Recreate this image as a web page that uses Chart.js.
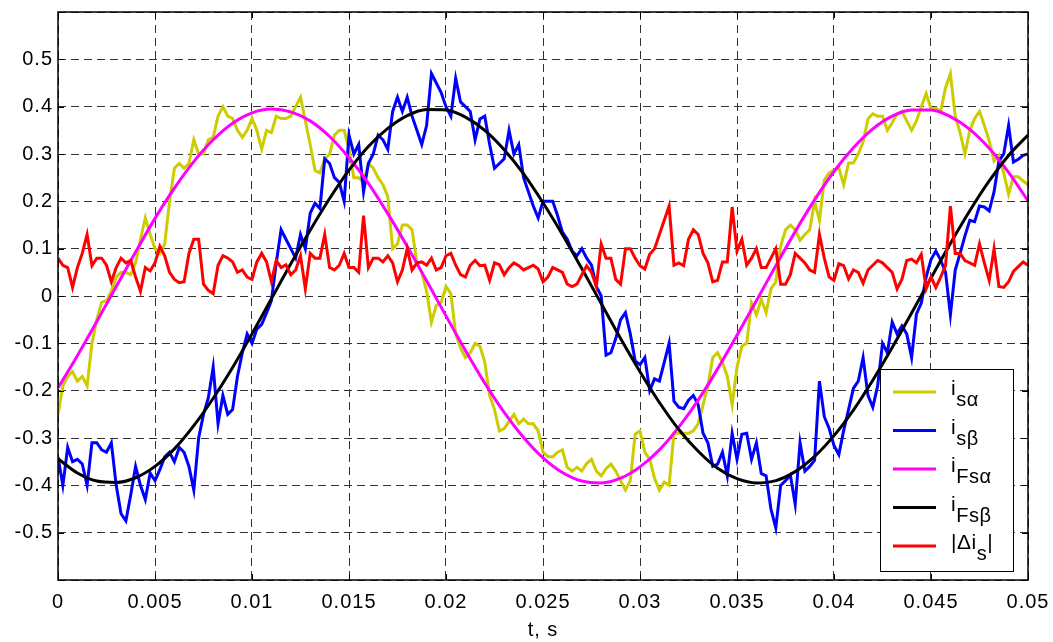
<!DOCTYPE html>
<html>
<head>
<meta charset="utf-8">
<script src="https://cdn.jsdelivr.net/npm/chart.js@4.4.1/dist/chart.umd.min.js"></script>
<style>
body { margin: 0; background: #fff; }
canvas { display: block; }
</style>
</head>
<body>
<canvas id="grafico" width="1053" height="642"></canvas>
<script>
// muestreo de las corrientes medidas (cada 0.25 ms) y filtradas (cada 1 ms)
const pasoMedida = 0.00025;
const pasoFiltro = 0.001;

const isAlfa = [
    -0.25, -0.19, -0.17, -0.16, -0.18, -0.17, -0.19, -0.10, -0.05, -0.013,
    -0.01, 0.01, 0.04, 0.05, 0.05, 0.045, 0.07, 0.12, 0.165, 0.13,
    0.10, 0.09, 0.11, 0.20, 0.27, 0.28, 0.27, 0.28, 0.33, 0.30,
    0.30, 0.33, 0.335, 0.38, 0.40, 0.38, 0.375, 0.35, 0.335, 0.35,
    0.375, 0.35, 0.31, 0.35, 0.345, 0.38, 0.375, 0.375, 0.38, 0.40,
    0.42, 0.37, 0.32, 0.265, 0.26, 0.29, 0.30, 0.34, 0.35, 0.35,
    0.31, 0.25, 0.25, 0.24, 0.28, 0.27, 0.25, 0.235, 0.21, 0.10,
    0.11, 0.15, 0.15, 0.14, 0.07, 0.05, 0.01, -0.055, -0.02, -0.013,
    0.02, 0.005, -0.08, -0.11, -0.13, -0.12, -0.10, -0.106, -0.14, -0.21,
    -0.24, -0.285, -0.28, -0.265, -0.25, -0.27, -0.26, -0.27, -0.27, -0.285,
    -0.33, -0.339, -0.34, -0.33, -0.325, -0.362, -0.37, -0.362, -0.37, -0.354,
    -0.345, -0.37, -0.38, -0.365, -0.355, -0.37, -0.39, -0.41, -0.39, -0.292,
    -0.285, -0.33, -0.345, -0.385, -0.41, -0.393, -0.40, -0.29, -0.29, -0.29,
    -0.29, -0.285, -0.27, -0.23, -0.19, -0.13, -0.12, -0.14, -0.17, -0.23,
    -0.15, -0.106, -0.10, -0.015, -0.04, -0.007, -0.035, 0.015, 0.03, 0.105,
    0.14, 0.15, 0.14, 0.118, 0.13, 0.14, 0.20, 0.16, 0.245, 0.26,
    0.266, 0.27, 0.235, 0.281, 0.281, 0.30, 0.325, 0.374, 0.385, 0.38,
    0.38, 0.35, 0.366, 0.385, 0.39, 0.37, 0.35, 0.37, 0.40, 0.428,
    0.395, 0.397, 0.39, 0.44, 0.47, 0.38, 0.345, 0.30, 0.35, 0.375,
    0.39, 0.36, 0.328, 0.285, 0.297, 0.26, 0.215, 0.252, 0.252, 0.243,
    0.235
];

const isBeta = [
    -0.34, -0.40, -0.32, -0.35, -0.345, -0.355, -0.40, -0.31, -0.31, -0.325,
    -0.33, -0.31, -0.40, -0.46, -0.475, -0.42, -0.36, -0.40, -0.43, -0.374,
    -0.39, -0.367, -0.34, -0.33, -0.35, -0.32, -0.33, -0.36, -0.41, -0.30,
    -0.25, -0.215, -0.15, -0.27, -0.21, -0.25, -0.24, -0.17, -0.12, -0.08,
    -0.10, -0.07, -0.06, -0.036, -0.01, 0.07, 0.14, 0.12, 0.10, 0.08,
    0.13, 0.10, 0.175, 0.196, 0.185, 0.29, 0.28, 0.25, 0.24, 0.20,
    0.34, 0.30, 0.32, 0.22, 0.28, 0.30, 0.34, 0.33, 0.31, 0.39,
    0.42, 0.39, 0.42, 0.38, 0.35, 0.32, 0.36, 0.47, 0.45, 0.43,
    0.40, 0.38, 0.46, 0.41, 0.40, 0.39, 0.33, 0.374, 0.38, 0.32,
    0.27, 0.28, 0.29, 0.35, 0.30, 0.32, 0.25, 0.22, 0.19, 0.165,
    0.20, 0.20, 0.20, 0.17, 0.135, 0.12, 0.095, 0.085, 0.10, 0.08,
    0.065, 0.02, 0.00, -0.125, -0.12, -0.09, -0.05, -0.035, -0.08, -0.137,
    -0.145, -0.13, -0.20, -0.175, -0.18, -0.14, -0.10, -0.222, -0.235, -0.238,
    -0.22, -0.21, -0.23, -0.29, -0.31, -0.36, -0.355, -0.33, -0.38, -0.29,
    -0.345, -0.292, -0.29, -0.345, -0.31, -0.375, -0.38, -0.45, -0.49, -0.40,
    -0.39, -0.378, -0.44, -0.31, -0.37, -0.36, -0.347, -0.18, -0.255, -0.28,
    -0.316, -0.335, -0.284, -0.24, -0.195, -0.18, -0.13, -0.21, -0.235, -0.19,
    -0.10, -0.12, -0.055, -0.08, -0.063, -0.08, -0.13, -0.038, -0.015, 0.04,
    0.077, 0.095, 0.076, 0.05, -0.04, 0.055, 0.09, 0.127, 0.16, 0.157,
    0.19, 0.188, 0.18, 0.22, 0.285, 0.30, 0.36, 0.283, 0.289, 0.297,
    0.30
];

const deltaIs = [
    0.08, 0.065, 0.06, 0.018, 0.06, 0.09, 0.13, 0.064, 0.08, 0.08,
    0.065, 0.03, 0.06, 0.08, 0.07, 0.075, 0.04, 0.01, 0.06, 0.053,
    0.07, 0.105, 0.085, 0.05, 0.035, 0.028, 0.03, 0.09, 0.12, 0.12,
    0.025, 0.012, 0.005, 0.065, 0.085, 0.08, 0.072, 0.05, 0.055, 0.04,
    0.035, 0.072, 0.09, 0.072, 0.03, 0.075, 0.06, 0.066, 0.045, 0.055,
    0.085, 0.015, 0.09, 0.08, 0.08, 0.13, 0.06, 0.055, 0.065, 0.09,
    0.06, 0.06, 0.05, 0.17, 0.06, 0.08, 0.08, 0.072, 0.085, 0.07,
    0.03, 0.055, 0.10, 0.055, 0.07, 0.072, 0.065, 0.08, 0.055, 0.06,
    0.085, 0.09, 0.065, 0.045, 0.04, 0.065, 0.075, 0.064, 0.065, 0.033,
    0.07, 0.066, 0.045, 0.06, 0.07, 0.064, 0.055, 0.06, 0.065, 0.057,
    0.03, 0.04, 0.06, 0.055, 0.05, 0.025, 0.02, 0.025, 0.045, 0.064,
    0.05, 0.02, 0.11, 0.08, 0.08, 0.035, 0.025, 0.10, 0.10, 0.08,
    0.064, 0.057, 0.088, 0.10, 0.13, 0.16, 0.19, 0.065, 0.07, 0.064,
    0.12, 0.14, 0.13, 0.09, 0.07, 0.03, 0.033, 0.072, 0.072, 0.188,
    0.095, 0.12, 0.065, 0.08, 0.10, 0.06, 0.06, 0.08, 0.10, 0.025,
    0.025, 0.045, 0.09, 0.08, 0.07, 0.055, 0.05, 0.13, 0.08, 0.04,
    0.033, 0.068, 0.064, 0.036, 0.055, 0.05, 0.027, 0.055, 0.065, 0.075,
    0.07, 0.06, 0.05, 0.015, 0.035, 0.075, 0.078, 0.07, 0.088, 0.015,
    0.04, 0.018, 0.04, 0.064, 0.19, 0.09, 0.09, 0.075, 0.07, 0.065,
    0.11, 0.07, 0.033, 0.10, 0.02, 0.018, 0.03, 0.052, 0.062, 0.072,
    0.065
];

const iFsAlfa = [
    -0.194, -0.126, -0.054, 0.020, 0.093, 0.164, 0.228, 0.284, 0.330, 0.365,
    0.387, 0.395, 0.389, 0.370, 0.337, 0.292, 0.238, 0.174, 0.105, 0.032,
    -0.042, -0.115, -0.184, -0.246, -0.299, -0.342, -0.373, -0.391, -0.395, -0.385,
    -0.361, -0.325, -0.277, -0.220, -0.154, -0.083, -0.010, 0.064, 0.136, 0.203,
    0.263, 0.313, 0.353, 0.380, 0.393, 0.393, 0.379, 0.352, 0.312, 0.261,
    0.201
];

const iFsBeta = [
    -0.344, -0.374, -0.391, -0.394, -0.384, -0.360, -0.323, -0.274, -0.216, -0.151,
    -0.080, -0.006, 0.068, 0.139, 0.206, 0.266, 0.316, 0.354, 0.381, 0.394,
    0.393, 0.378, 0.350, 0.309, 0.258, 0.197, 0.130, 0.058, -0.016, -0.090,
    -0.160, -0.225, -0.282, -0.328, -0.364, -0.386, -0.395, -0.390, -0.371, -0.339,
    -0.295, -0.241, -0.178, -0.109, -0.036, 0.038, 0.111, 0.180, 0.243, 0.297,
    0.340
];

const tMedida = isAlfa.map((_, i) => +(i * pasoMedida).toFixed(5));
const tFiltro = iFsAlfa.map((_, i) => +(i * pasoFiltro).toFixed(3));

// etiquetas de la leyenda: texto normal y subíndice
const leyenda = [
    { color: '#cccc00', partes: [['i', false], ['sα', true]] },
    { color: '#0000ff', partes: [['i', false], ['sβ', true]] },
    { color: '#ff00ff', partes: [['i', false], ['Fsα', true]] },
    { color: '#000000', partes: [['i', false], ['Fsβ', true]] },
    { color: '#ff0000', partes: [['|Δi', false], ['s', true], ['|', false]] }
];

const fuente = '"Liberation Sans", Arial, sans-serif';
const espaciado = '1px'; // el original tiene el texto algo ensanchado

function puntos(t, v) {
    return t.map((x, i) => ({ x: x, y: v[i] }));
}

function serie(label, t, v, color, orden, suave) {
    return {
        label: label,
        data: puntos(t, v),
        borderColor: color,
        backgroundColor: color,
        borderWidth: 3,
        pointRadius: 0,
        tension: 0,
        cubicInterpolationMode: suave ? 'monotone' : 'default',
        order: orden
    };
}

const marco = {
    id: 'marco',
    beforeDraw(chart) {
        chart.ctx.letterSpacing = espaciado;
    },
    afterDraw(chart) {
        const { ctx, chartArea: a, scales } = chart;
        ctx.save();
        ctx.strokeStyle = '#000';
        ctx.lineWidth = 1;
        ctx.setLineDash([]);
        ctx.beginPath();
        scales.x.ticks.forEach(tk => {
            const px = Math.round(scales.x.getPixelForValue(tk.value)) + 0.5;
            ctx.moveTo(px, a.bottom); ctx.lineTo(px, a.bottom - 6);
            ctx.moveTo(px, a.top); ctx.lineTo(px, a.top + 6);
        });
        scales.y.ticks.forEach(tk => {
            const py = Math.round(scales.y.getPixelForValue(tk.value)) + 0.5;
            ctx.moveTo(a.left, py); ctx.lineTo(a.left + 6, py);
            ctx.moveTo(a.right, py); ctx.lineTo(a.right - 6, py);
        });
        ctx.stroke();
        ctx.lineWidth = 1.5;
        ctx.strokeRect(a.left, a.top, a.right - a.left, a.bottom - a.top);

        // leyenda con subíndices
        const x0 = 880, y0 = 369, w = 133, h = 202;
        ctx.fillStyle = '#fff';
        ctx.fillRect(x0, y0, w, h);
        ctx.lineWidth = 1;
        ctx.strokeRect(x0 + 0.5, y0 + 0.5, w, h);
        ctx.letterSpacing = '0.5px';
        leyenda.forEach((e, i) => {
            const y = 392 + i * 38.5;
            ctx.strokeStyle = e.color;
            ctx.lineWidth = 3;
            ctx.beginPath();
            ctx.moveTo(893, y);
            ctx.lineTo(936, y);
            ctx.stroke();
            let x = 951;
            ctx.fillStyle = '#000';
            ctx.textBaseline = 'alphabetic';
            ctx.textAlign = 'left';
            e.partes.forEach(([txt, sub]) => {
                ctx.font = (sub ? '20px ' : '21px ') + fuente;
                ctx.fillText(txt, x, y + (sub ? 14 : 3));
                x += ctx.measureText(txt).width;
            });
        });
        ctx.restore();
    }
};

new Chart(document.getElementById('grafico'), {
    type: 'line',
    data: {
        datasets: [
            serie('isα', tMedida, isAlfa, '#cccc00', 5, false),
            serie('isβ', tMedida, isBeta, '#0000ff', 4, false),
            serie('iFsα', tFiltro, iFsAlfa, '#ff00ff', 3, true),
            serie('iFsβ', tFiltro, iFsBeta, '#000000', 2, true),
            serie('|Δis|', tMedida, deltaIs, '#ff0000', 1, false)
        ]
    },
    plugins: [marco],
    options: {
        responsive: false,
        animation: false,
        devicePixelRatio: 1,
        layout: { padding: { top: 12, right: 25, left: 0, bottom: 0 } },
        plugins: {
            legend: { display: false },
            tooltip: { enabled: false }
        },
        scales: {
            x: {
                type: 'linear',
                min: 0,
                max: 0.05,
                afterFit: s => {
                    s.height = 62;
                    s.paddingLeft = 0;
                    s.paddingRight = 0;
                },
                grid: {
                    color: '#333',
                    lineWidth: 1,
                    drawTicks: false
                },
                border: { display: false, dash: [8, 5] },
                ticks: {
                    stepSize: 0.005,
                    padding: 10,
                    color: '#000',
                    font: { family: fuente, size: 20 },
                    maxRotation: 0,
                    autoSkip: false,
                    callback: v => String(Math.round(v * 1000) / 1000)
                },
                title: {
                    display: true,
                    text: 't, s',
                    color: '#000',
                    font: { family: fuente, size: 20 },
                    padding: { top: 0, bottom: 0 }
                }
            },
            y: {
                min: -0.6,
                max: 0.6,
                afterFit: s => {
                    s.width = 58;
                    s.paddingTop = 0;
                    s.paddingBottom = 0;
                },
                grid: {
                    color: '#333',
                    lineWidth: 1,
                    drawTicks: false
                },
                border: { display: false, dash: [8, 5] },
                ticks: {
                    stepSize: 0.1,
                    padding: 5,
                    color: '#000',
                    font: { family: fuente, size: 20 },
                    callback: v => {
                        const r = Math.round(v * 10) / 10;
                        return Math.abs(r) > 0.55 ? '' : String(r);
                    }
                }
            }
        }
    }
});
</script>
</body>
</html>
